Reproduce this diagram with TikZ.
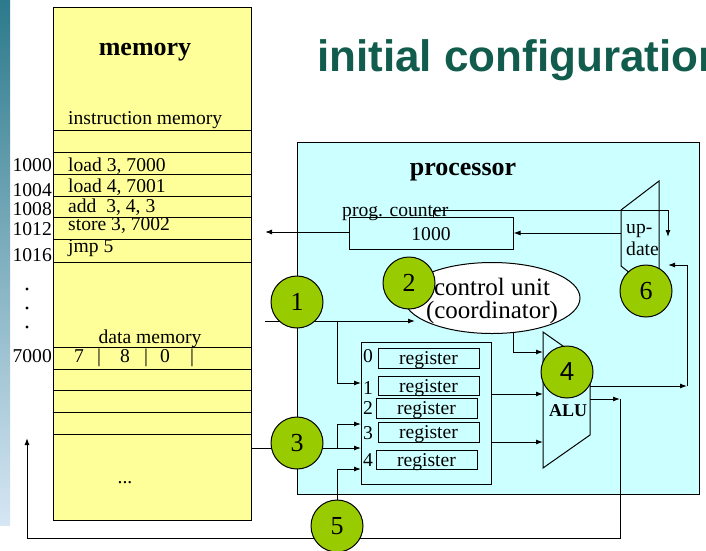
\documentclass[tikz,border=0pt]{standalone}
\usepackage{fontspec}
\setmainfont{Liberation Serif}
\newfontfamily\titlefont{Liberation Sans}
\usetikzlibrary{positioning,arrows.meta,shapes.geometric}

\definecolor{memyellow}{HTML}{FFFF99}
\definecolor{proccyan}{HTML}{CCFFFF}
\definecolor{stepgreen}{HTML}{99CC00}
\definecolor{titlegreen}{HTML}{115C4C}
\definecolor{stripa}{HTML}{2C7A8C}
\definecolor{stripb}{HTML}{2E5EA8}
\definecolor{stripc}{HTML}{D6E6F4}

\tikzset{
  txt/.style={inner sep=0pt, font=\fontsize{19.6}{22}\selectfont},
  head/.style={inner sep=0pt, font=\fontsize{26}{28}\selectfont\bfseries},
  stepnum/.style={circle, draw, line width=1pt, fill=stepgreen, minimum size=52pt,
    inner sep=0pt, font=\fontsize{26}{26}\selectfont},
  regbox/.style={draw, line width=1pt, minimum width=101pt, inner sep=0pt,
    text height=15pt, text depth=2pt, font=\fontsize{19.6}{22}\selectfont},
  wire/.style={line width=1pt},
  arr/.style={line width=1pt, -{Latex[length=7pt,width=5pt]}},
}

\begin{document}
\begin{tikzpicture}[x=1pt, y=-1pt]
  \clip (0,0) rectangle (706,550);
  \fill[white] (0,0) rectangle (706,550);
  \shade[top color=stripa, middle color=stripb, bottom color=stripc]
    (0,0) rectangle (10,525);

  % title
  \node[anchor=base west, inner sep=0pt, text=titlegreen,
    font=\titlefont\fontsize{44}{48}\selectfont\bfseries] (title) at (317,71)
    {initial configuration};

  % memory
  \node[draw, line width=1pt, fill=memyellow, anchor=north west,
    minimum width=198pt, minimum height=513pt] (mem) at (53,7) {};
  \foreach \y in {130,152,174,196,217,239,262,347,369,390,412,434}
    \draw[wire] (53,\y) -- (251,\y);
  \node[head, anchor=base] (mem-t) at (145,55) {memory};
  \node[txt, anchor=base west] (imem) at (68,124) {instruction memory};
  \foreach \a/\t/\y [count=\i] in {1000/load 3{,} 7000/171, 1004/load 4{,} 7001/192,
      1008/add\ \ 3{,} 4{,} 3/212, 1012/store 3{,} 7002/230, 1016/jmp 5/252} {
    \node[txt, anchor=base west] (ins-\i) at (68,\y) {\t};
  }
  \foreach \a/\y [count=\i] in {1000/171, 1004/196, 1008/215, 1012/235, 1016/261, 7000/362}
    \node[txt, anchor=base east] (adr-\i) at (52,\y) {\a};
  \foreach \y in {289,308,327}
    \fill (27,\y) circle (1.6pt);
  \node[txt, anchor=base] (dmem) at (150,343) {data memory};
  \foreach \x/\t [count=\i] in {79/7, 99/|, 125/8, 146/|, 165/0, 192/|}
    \node[txt, anchor=base] (d-\i) at (\x,362) {\t};
  \node[txt, anchor=base] (dots) at (125,483) {...};

  % processor
  \node[draw, line width=1pt, fill=proccyan, anchor=north west,
    minimum width=402pt, minimum height=352pt] (proc) at (297,142) {};
  \node[head, anchor=base] (proc-t) at (463,175) {processor};

  \node[draw, line width=1pt, minimum width=164pt, minimum height=32pt, inner sep=0pt,
    txt] (pc) at (431,233) {};
  \node[txt, anchor=base] (pc-v) at (431,240) {1000};
  \node[txt, anchor=base west] (pc-t) at (342,216) {prog. counter};

  % update unit
  \draw[wire] (621,210) -- (659,181) -- (659,296) -- (621,266) -- cycle;
  \node[txt, anchor=base west] (upd-1) at (626,233) {up-};
  \node[txt, anchor=base west] (upd-2) at (626,255) {date};

  % control unit
  \node[ellipse, draw, line width=1pt, fill=white, minimum width=176pt,
    minimum height=71pt, inner sep=0pt] (cu) at (492,298) {};
  \node[inner sep=0pt, anchor=base, font=\fontsize{25}{27}\selectfont] (cu-1) at (492,295) {control unit};
  \node[inner sep=0pt, anchor=base, font=\fontsize{25}{27}\selectfont] (cu-2) at (492,318) {(coordinator)};

  % register file
  \node[draw, line width=1pt, minimum width=130pt, minimum height=142pt] (rf) at (426,413) {};
  \foreach \x/\y/\h/\ly [count=\i from 0] in {428.5/358/20/362, 428.5/385.5/19/394,
      426.5/408/20/414, 428.5/432/20/439, 426.5/459.5/19/466} {
    \node[regbox, minimum height=\h pt] (r-\i) at (\x,\y) {register};
    \node[txt, anchor=base] (n-\i) at (368,\ly) {\i};
  }

  % ALU
  \draw[wire] (543,332) -- (590,365) -- (590,435) -- (543,468) -- cycle;
  \node[anchor=base, inner sep=0pt, font=\fontsize{18}{20}\selectfont\bfseries] (alu) at (568,416) {ALU};

  % connectors
  \coordinate (pc-out) at (265,232);
  \coordinate (upd-w) at (621,233);
  \coordinate (pc-loop) at (668,210);
  \coordinate (upd-in) at (668,237);
  \coordinate (alu-o1) at (590,386);
  \coordinate (fb-r) at (687,386);
  \coordinate (upd-fb) at (668,265);
  \coordinate (alu-o2) at (590,399);
  \coordinate (wb-c) at (620,399);
  \coordinate (mem-in) at (27,438);
  \coordinate (mem-o1) at (265,321);
  \coordinate (cu-in) at (415,321);
  \coordinate (j-1) at (337,321);
  \coordinate (rf-1) at (361,383);
  \coordinate (mem-o3) at (251,448);
  \coordinate (rf-3a) at (361,448);
  \coordinate (j-3) at (337,448);
  \coordinate (rf-3b) at (361,424);
  \coordinate (rf-4) at (361,469);
  \coordinate (cu-o) at (513,333);
  \coordinate (alu-c) at (543,352);
  \coordinate (alu-a) at (543,394);
  \coordinate (alu-b) at (543,442);

  \draw[arr] (pc.west |- pc-out) -- (pc-out);
  \draw[arr] (upd-w) -- (pc.east);
  \draw[arr] (pc.north -| 433,0) |- (pc-loop) -- (upd-in);
  \draw[arr] (alu-o1) -- (fb-r);
  \draw[arr] (fb-r) |- (upd-fb);
  \draw[arr] (alu-o2) -- (wb-c);
  \draw[arr] (wb-c) -- (wb-c |- 0,538) -| (mem-in);
  \draw[arr] (mem-o1) -- (cu-in);
  \draw[arr] (j-1) |- (rf-1);
  \draw[arr] (mem-o3) -- (rf-3a);
  \draw[arr] (j-3) |- (rf-3b);
  \draw[arr] (cu-o) |- (alu-c);
  \draw[arr] (rf.east |- alu-a) -- (alu-a);
  \draw[arr] (rf.east |- alu-b) -- (alu-b);

  % steps
  \node[stepnum] (s-1) at (297,302) {1};
  \node[stepnum] (s-2) at (409,283) {2};
  \node[stepnum] (s-3) at (297,443) {3};
  \node[stepnum, font=\titlefont\fontsize{26}{26}\selectfont] (s-4) at (567,372) {4};
  \node[stepnum] (s-5) at (337,526) {5};
  \node[stepnum] (s-6) at (646,291) {6};
  \draw[arr] (s-5.north) |- (rf-4);
\end{tikzpicture}
\end{document}
